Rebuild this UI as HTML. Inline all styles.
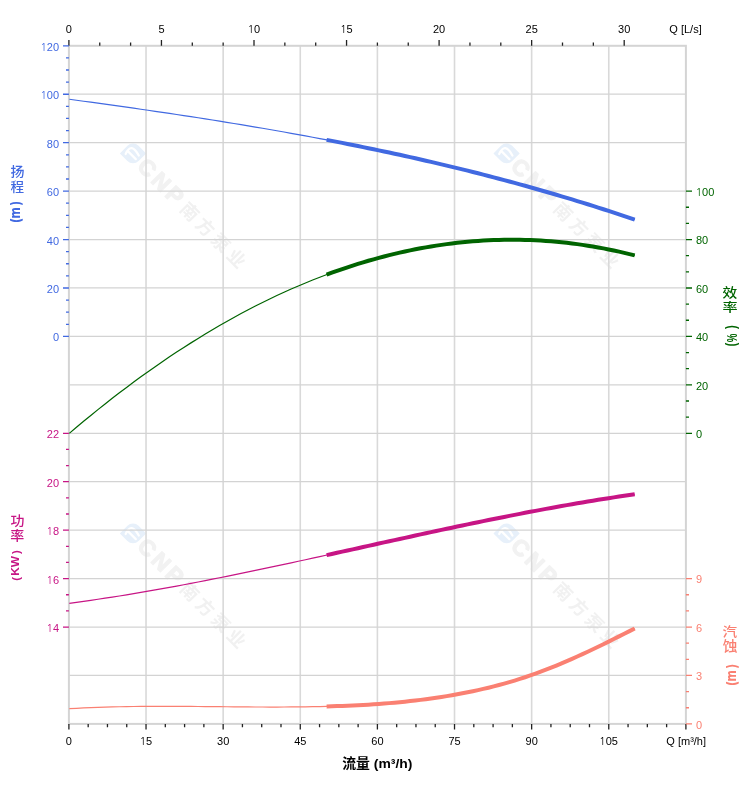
<!DOCTYPE html><html><head><meta charset="utf-8"><style>html,body{margin:0;padding:0;background:#fff;}svg{display:block;}</style></head><body>
<svg width="752" height="797" viewBox="0 0 752 797">
<rect width="752" height="797" fill="#fff"/>
<g transform="translate(133,153.4)"><path transform="rotate(45)" d="M-9.3,9.3 L-9.3,-1.4000000000000004 A7.9,7.9 0 0 1 -1.4000000000000004,-9.3 L9.3,-9.3 L9.3,1.4000000000000004 A7.9,7.9 0 0 1 1.4000000000000004,9.3 Z" fill="#e7f0fa"/><path d="M-7.4,0.6 Q-1.7,-12 5.8,2.2 M-4.7,-1.8 L2.8,5.7" stroke="#fff" stroke-width="2.2" fill="none" stroke-linecap="round"/><g transform="rotate(45)"><text x="12" y="7.9" font-family='"Liberation Sans",sans-serif' font-size="22.5" font-weight="bold" fill="#f2f2f2" stroke="#f2f2f2" stroke-width="1.3" stroke-linejoin="round" letter-spacing="3.6">CNP</text><text x="72.4" y="7.7" font-family='"Noto Sans CJK SC", "WenQuanYi Zen Hei", sans-serif' font-size="18" font-weight="700" fill="#f1f1f1" letter-spacing="4">南方泵业</text></g></g>
<g transform="translate(133,533.4)"><path transform="rotate(45)" d="M-9.3,9.3 L-9.3,-1.4000000000000004 A7.9,7.9 0 0 1 -1.4000000000000004,-9.3 L9.3,-9.3 L9.3,1.4000000000000004 A7.9,7.9 0 0 1 1.4000000000000004,9.3 Z" fill="#e7f0fa"/><path d="M-7.4,0.6 Q-1.7,-12 5.8,2.2 M-4.7,-1.8 L2.8,5.7" stroke="#fff" stroke-width="2.2" fill="none" stroke-linecap="round"/><g transform="rotate(45)"><text x="12" y="7.9" font-family='"Liberation Sans",sans-serif' font-size="22.5" font-weight="bold" fill="#f2f2f2" stroke="#f2f2f2" stroke-width="1.3" stroke-linejoin="round" letter-spacing="3.6">CNP</text><text x="72.4" y="7.7" font-family='"Noto Sans CJK SC", "WenQuanYi Zen Hei", sans-serif' font-size="18" font-weight="700" fill="#f1f1f1" letter-spacing="4">南方泵业</text></g></g>
<g transform="translate(506.6,153.4)"><path transform="rotate(45)" d="M-9.3,9.3 L-9.3,-1.4000000000000004 A7.9,7.9 0 0 1 -1.4000000000000004,-9.3 L9.3,-9.3 L9.3,1.4000000000000004 A7.9,7.9 0 0 1 1.4000000000000004,9.3 Z" fill="#e7f0fa"/><path d="M-7.4,0.6 Q-1.7,-12 5.8,2.2 M-4.7,-1.8 L2.8,5.7" stroke="#fff" stroke-width="2.2" fill="none" stroke-linecap="round"/><g transform="rotate(45)"><text x="12" y="7.9" font-family='"Liberation Sans",sans-serif' font-size="22.5" font-weight="bold" fill="#f2f2f2" stroke="#f2f2f2" stroke-width="1.3" stroke-linejoin="round" letter-spacing="3.6">CNP</text><text x="72.4" y="7.7" font-family='"Noto Sans CJK SC", "WenQuanYi Zen Hei", sans-serif' font-size="18" font-weight="700" fill="#f1f1f1" letter-spacing="4">南方泵业</text></g></g>
<g transform="translate(506.6,533.4)"><path transform="rotate(45)" d="M-9.3,9.3 L-9.3,-1.4000000000000004 A7.9,7.9 0 0 1 -1.4000000000000004,-9.3 L9.3,-9.3 L9.3,1.4000000000000004 A7.9,7.9 0 0 1 1.4000000000000004,9.3 Z" fill="#e7f0fa"/><path d="M-7.4,0.6 Q-1.7,-12 5.8,2.2 M-4.7,-1.8 L2.8,5.7" stroke="#fff" stroke-width="2.2" fill="none" stroke-linecap="round"/><g transform="rotate(45)"><text x="12" y="7.9" font-family='"Liberation Sans",sans-serif' font-size="22.5" font-weight="bold" fill="#f2f2f2" stroke="#f2f2f2" stroke-width="1.3" stroke-linejoin="round" letter-spacing="3.6">CNP</text><text x="72.4" y="7.7" font-family='"Noto Sans CJK SC", "WenQuanYi Zen Hei", sans-serif' font-size="18" font-weight="700" fill="#f1f1f1" letter-spacing="4">南方泵业</text></g></g>
<path d="M146.03,45.8V723.9M223.15,45.8V723.9M300.27,45.8V723.9M377.4,45.8V723.9M454.52,45.8V723.9M531.65,45.8V723.9M608.77,45.8V723.9" stroke="#d9d9d9" stroke-width="1.6" fill="none"/>
<path d="M68.9,94.24H685.9M68.9,142.67H685.9M68.9,191.11H685.9M68.9,239.54H685.9M68.9,287.98H685.9M68.9,336.42H685.9M68.9,384.85H685.9M68.9,433.29H685.9M68.9,481.72H685.9M68.9,530.16H685.9M68.9,578.6H685.9M68.9,627.03H685.9M68.9,675.47H685.9" stroke="#d3d3d3" stroke-width="1.25" fill="none"/>
<rect x="68.9" y="45.8" width="617" height="678.1" stroke="#d4d4d4" stroke-width="2" fill="none"/>
<path d="M68.9,40V45.8M99.75,42.5V45.8M130.6,42.5V45.8M161.45,40V45.8M192.3,42.5V45.8M223.15,42.5V45.8M254,40V45.8M284.85,42.5V45.8M315.7,42.5V45.8M346.55,40V45.8M377.4,42.5V45.8M408.25,42.5V45.8M439.1,40V45.8M469.95,42.5V45.8M500.8,42.5V45.8M531.65,40V45.8M562.5,42.5V45.8M593.35,42.5V45.8M624.2,40V45.8" stroke="#222" stroke-width="1.3" fill="none"/>
<path d="M68.9,723.9V729.5M88.18,723.9V727.3M107.46,723.9V727.3M126.74,723.9V727.3M146.03,723.9V729.5M165.31,723.9V727.3M184.59,723.9V727.3M203.87,723.9V727.3M223.15,723.9V729.5M242.43,723.9V727.3M261.71,723.9V727.3M280.99,723.9V727.3M300.27,723.9V729.5M319.56,723.9V727.3M338.84,723.9V727.3M358.12,723.9V727.3M377.4,723.9V729.5M396.68,723.9V727.3M415.96,723.9V727.3M435.24,723.9V727.3M454.52,723.9V729.5M473.81,723.9V727.3M493.09,723.9V727.3M512.37,723.9V727.3M531.65,723.9V729.5M550.93,723.9V727.3M570.21,723.9V727.3M589.49,723.9V727.3M608.77,723.9V729.5M628.06,723.9V727.3M647.34,723.9V727.3M666.62,723.9V727.3M685.9,723.9V729.5" stroke="#222" stroke-width="1.3" fill="none"/>
<path d="M63,45.8H68.9M66,57.91H68.9M66,70.02H68.9M66,82.13H68.9M63,94.24H68.9M66,106.34H68.9M66,118.45H68.9M66,130.56H68.9M63,142.67H68.9M66,154.78H68.9M66,166.89H68.9M66,179H68.9M63,191.11H68.9M66,203.22H68.9M66,215.33H68.9M66,227.44H68.9M63,239.54H68.9M66,251.65H68.9M66,263.76H68.9M66,275.87H68.9M63,287.98H68.9M66,300.09H68.9M66,312.2H68.9M66,324.31H68.9M63,336.42H68.9" stroke="#4169e1" stroke-width="1.3" fill="none"/>
<path d="M63,433.29H68.9M66,449.43H68.9M66,465.58H68.9M63,481.72H68.9M66,497.87H68.9M66,514.01H68.9M63,530.16H68.9M66,546.31H68.9M66,562.45H68.9M63,578.6H68.9M66,594.74H68.9M66,610.89H68.9M63,627.03H68.9" stroke="#c71585" stroke-width="1.3" fill="none"/>
<path d="M685.9,191.11H692M685.9,207.25H689M685.9,223.4H689M685.9,239.54H692M685.9,255.69H689M685.9,271.83H689M685.9,287.98H692M685.9,304.13H689M685.9,320.27H689M685.9,336.42H692M685.9,352.56H689M685.9,368.71H689M685.9,384.85H692M685.9,401H689M685.9,417.14H689M685.9,433.29H692" stroke="#006400" stroke-width="1.3" fill="none"/>
<path d="M685.9,578.6H692M685.9,594.74H689M685.9,610.89H689M685.9,627.03H692M685.9,643.18H689M685.9,659.32H689M685.9,675.47H692M685.9,691.61H689M685.9,707.76H689M685.9,723.9H692" stroke="#fa8072" stroke-width="1.3" fill="none"/>
<g font-family='"Liberation Sans", Arial, "Noto Sans CJK SC", sans-serif'><text y="33" fill="#000" font-size="11" ><tspan x="65.84">0</tspan></text><text y="33" fill="#000" font-size="11" ><tspan x="158.39">5</tspan></text><text y="33" fill="#000" font-size="11" ><tspan x="247.63" font-family="NanumGothic, 'Liberation Sans', sans-serif" font-size="10.5">1</tspan><tspan x="254">0</tspan></text><text y="33" fill="#000" font-size="11" ><tspan x="340.18" font-family="NanumGothic, 'Liberation Sans', sans-serif" font-size="10.5">1</tspan><tspan x="346.55">5</tspan></text><text y="33" fill="#000" font-size="11" ><tspan x="432.98">2</tspan><tspan x="439.1">0</tspan></text><text y="33" fill="#000" font-size="11" ><tspan x="525.53">2</tspan><tspan x="531.65">5</tspan></text><text y="33" fill="#000" font-size="11" ><tspan x="618.08">3</tspan><tspan x="624.2">0</tspan></text><text x="669.3" y="33" fill="#000" text-anchor="start" font-size="11" >Q [L/s]</text><text y="745" fill="#000" font-size="11" ><tspan x="65.84">0</tspan></text><text y="745" fill="#000" font-size="11" ><tspan x="139.66" font-family="NanumGothic, 'Liberation Sans', sans-serif" font-size="10.5">1</tspan><tspan x="146.03">5</tspan></text><text y="745" fill="#000" font-size="11" ><tspan x="217.03">3</tspan><tspan x="223.15">0</tspan></text><text y="745" fill="#000" font-size="11" ><tspan x="294.16">4</tspan><tspan x="300.27">5</tspan></text><text y="745" fill="#000" font-size="11" ><tspan x="371.28">6</tspan><tspan x="377.4">0</tspan></text><text y="745" fill="#000" font-size="11" ><tspan x="448.41">7</tspan><tspan x="454.52">5</tspan></text><text y="745" fill="#000" font-size="11" ><tspan x="525.53">9</tspan><tspan x="531.65">0</tspan></text><text y="745" fill="#000" font-size="11" ><tspan x="599.35" font-family="NanumGothic, 'Liberation Sans', sans-serif" font-size="10.5">1</tspan><tspan x="605.72">0</tspan><tspan x="611.83">5</tspan></text><text x="666.3" y="745" fill="#000" text-anchor="start" font-size="11" >Q [m³/h]</text><text y="50.8" fill="#4169e1" font-size="11" ><tspan x="40.39" font-family="NanumGothic, 'Liberation Sans', sans-serif" font-size="10.5">1</tspan><tspan x="46.76">2</tspan><tspan x="52.88">0</tspan></text><text y="99.24" fill="#4169e1" font-size="11" ><tspan x="40.39" font-family="NanumGothic, 'Liberation Sans', sans-serif" font-size="10.5">1</tspan><tspan x="46.76">0</tspan><tspan x="52.88">0</tspan></text><text y="147.67" fill="#4169e1" font-size="11" ><tspan x="46.76">8</tspan><tspan x="52.88">0</tspan></text><text y="196.11" fill="#4169e1" font-size="11" ><tspan x="46.76">6</tspan><tspan x="52.88">0</tspan></text><text y="244.54" fill="#4169e1" font-size="11" ><tspan x="46.76">4</tspan><tspan x="52.88">0</tspan></text><text y="292.98" fill="#4169e1" font-size="11" ><tspan x="46.76">2</tspan><tspan x="52.88">0</tspan></text><text y="341.42" fill="#4169e1" font-size="11" ><tspan x="52.88">0</tspan></text><text y="438.29" fill="#c71585" font-size="11" ><tspan x="46.76">2</tspan><tspan x="52.88">2</tspan></text><text y="486.72" fill="#c71585" font-size="11" ><tspan x="46.76">2</tspan><tspan x="52.88">0</tspan></text><text y="535.16" fill="#c71585" font-size="11" ><tspan x="46.51" font-family="NanumGothic, 'Liberation Sans', sans-serif" font-size="10.5">1</tspan><tspan x="52.88">8</tspan></text><text y="583.6" fill="#c71585" font-size="11" ><tspan x="46.51" font-family="NanumGothic, 'Liberation Sans', sans-serif" font-size="10.5">1</tspan><tspan x="52.88">6</tspan></text><text y="632.03" fill="#c71585" font-size="11" ><tspan x="46.51" font-family="NanumGothic, 'Liberation Sans', sans-serif" font-size="10.5">1</tspan><tspan x="52.88">4</tspan></text><text y="195.81" fill="#006400" font-size="11" ><tspan x="695.75" font-family="NanumGothic, 'Liberation Sans', sans-serif" font-size="10.5">1</tspan><tspan x="702.12">0</tspan><tspan x="708.24">0</tspan></text><text y="244.24" fill="#006400" font-size="11" ><tspan x="696">8</tspan><tspan x="702.12">0</tspan></text><text y="292.68" fill="#006400" font-size="11" ><tspan x="696">6</tspan><tspan x="702.12">0</tspan></text><text y="341.12" fill="#006400" font-size="11" ><tspan x="696">4</tspan><tspan x="702.12">0</tspan></text><text y="389.55" fill="#006400" font-size="11" ><tspan x="696">2</tspan><tspan x="702.12">0</tspan></text><text y="437.99" fill="#006400" font-size="11" ><tspan x="696">0</tspan></text><text y="583.3" fill="#fa8072" font-size="11" ><tspan x="696">9</tspan></text><text y="631.73" fill="#fa8072" font-size="11" ><tspan x="696">6</tspan></text><text y="680.17" fill="#fa8072" font-size="11" ><tspan x="696">3</tspan></text><text y="728.6" fill="#fa8072" font-size="11" ><tspan x="696">0</tspan></text></g>
<text transform="matrix(0.14000,0,0,0.13043,10.440,175.957)" x="0" y="0" fill="#4169e1" font-size="100" font-weight="500" font-family='"Noto Sans CJK SC", "WenQuanYi Zen Hei", sans-serif'>扬</text>
<text transform="matrix(0.13548,0,0,0.12747,10.594,190.880)" x="0" y="0" fill="#4169e1" font-size="100" font-weight="500" font-family='"Noto Sans CJK SC", "WenQuanYi Zen Hei", sans-serif'>程</text>
<text transform="matrix(0.00000,-0.10345,0.13820,0.00000,21.403,205.728)" x="0" y="0" fill="#4169e1" font-size="100" font-weight="700" font-family='"DejaVu Sans",sans-serif'>)</text>
<text transform="matrix(0.00000,-0.11250,0.14196,0.00000,20.050,218.800)" x="0" y="0" fill="#4169e1" font-size="100" font-weight="700" font-family='"DejaVu Sans",sans-serif'>m</text>
<text transform="matrix(0.00000,-0.11071,0.13820,0.00000,21.403,222.996)" x="0" y="0" fill="#4169e1" font-size="100" font-weight="700" font-family='"DejaVu Sans",sans-serif'>(</text>
<text transform="matrix(0.14000,0,0,0.12967,10.440,525.063)" x="0" y="0" fill="#c71585" font-size="100" font-weight="500" font-family='"Noto Sans CJK SC", "WenQuanYi Zen Hei", sans-serif'>功</text>
<text transform="matrix(0.14000,0,0,0.12903,10.300,540.168)" x="0" y="0" fill="#c71585" font-size="100" font-weight="500" font-family='"Noto Sans CJK SC", "WenQuanYi Zen Hei", sans-serif'>率</text>
<text transform="matrix(0.00000,-0.11071,0.11702,0.00000,19.543,553.900)" x="0" y="0" fill="#c71585" font-size="100" font-weight="700" font-family='"Liberation Sans",sans-serif'>)</text>
<text transform="matrix(0.00000,-0.11887,0.11449,0.00000,18.900,575.732)" x="0" y="0" fill="#c71585" font-size="100" font-weight="700" font-family='"Liberation Sans",sans-serif'>KW</text>
<text transform="matrix(0.00000,-0.11071,0.11702,0.00000,19.543,580.654)" x="0" y="0" fill="#c71585" font-size="100" font-weight="700" font-family='"Liberation Sans",sans-serif'>(</text>
<text transform="matrix(0.14783,0,0,0.12688,722.609,296.758)" x="0" y="0" fill="#006400" font-size="100" font-weight="500" font-family='"Noto Sans CJK SC", "WenQuanYi Zen Hei", sans-serif'>效</text>
<text transform="matrix(0.15111,0,0,0.12473,722.444,311.602)" x="0" y="0" fill="#006400" font-size="100" font-weight="500" font-family='"Noto Sans CJK SC", "WenQuanYi Zen Hei", sans-serif'>率</text>
<text transform="matrix(0.00000,-0.11071,0.14096,0.00000,736.040,329.000)" x="0" y="0" fill="#006400" font-size="100" font-weight="700" font-family='"Liberation Sans",sans-serif'>)</text>
<text transform="matrix(0.00000,-0.09639,0.15286,0.00000,736.647,342.189)" x="0" y="0" fill="#006400" font-size="100" font-weight="700" font-family='"Liberation Sans",sans-serif'>%</text>
<text transform="matrix(0.00000,-0.10357,0.14096,0.00000,736.040,346.318)" x="0" y="0" fill="#006400" font-size="100" font-weight="700" font-family='"Liberation Sans",sans-serif'>(</text>
<text transform="matrix(0.14624,0,0,0.12903,722.615,635.839)" x="0" y="0" fill="#fa8072" font-size="100" font-weight="500" font-family='"Noto Sans CJK SC", "WenQuanYi Zen Hei", sans-serif'>汽</text>
<text transform="matrix(0.14783,0,0,0.14066,722.757,651.315)" x="0" y="0" fill="#fa8072" font-size="100" font-weight="500" font-family='"Noto Sans CJK SC", "WenQuanYi Zen Hei", sans-serif'>蚀</text>
<text transform="matrix(0.00000,-0.10690,0.14719,0.00000,737.087,668.855)" x="0" y="0" fill="#fa8072" font-size="100" font-weight="700" font-family='"DejaVu Sans",sans-serif'>)</text>
<text transform="matrix(0.00000,-0.11250,0.13929,0.00000,736.000,681.800)" x="0" y="0" fill="#fa8072" font-size="100" font-weight="700" font-family='"DejaVu Sans",sans-serif'>m</text>
<text transform="matrix(0.00000,-0.11071,0.14719,0.00000,737.087,685.996)" x="0" y="0" fill="#fa8072" font-size="100" font-weight="700" font-family='"DejaVu Sans",sans-serif'>(</text>
<text transform="matrix(0.13896,0,0,0.13491,342.183,768.167)" x="0" y="0" fill="#000" font-size="100" font-weight="700" font-family='"Liberation Sans","Noto Sans CJK SC",sans-serif'>流量 (m³/h)</text>
<path d="M69.3,708.68 L76.46,708.28 L83.61,707.93 L90.77,707.62 L97.93,707.34 L105.08,707.11 L112.24,706.91 L119.4,706.75 L126.56,706.61 L133.71,706.51 L140.87,706.43 L148.03,706.38 L155.18,706.35 L162.34,706.33 L169.5,706.34 L176.65,706.36 L183.81,706.4 L190.97,706.44 L198.13,706.5 L205.28,706.56 L212.44,706.62 L219.6,706.69 L226.75,706.76 L233.91,706.82 L241.07,706.88 L248.22,706.93 L255.38,706.98 L262.54,707.01 L269.69,707.03 L276.85,707.03 L284.01,707.01 L291.17,706.97 L298.32,706.91 L305.48,706.83 L312.64,706.72 L319.79,706.57 L326.95,706.4 L334.11,706.19 L341.26,705.95 L348.42,705.66 L355.58,705.33 L362.74,704.96 L369.89,704.53 L377.05,704.06 L384.21,703.53 L391.36,702.94 L398.52,702.29 L405.68,701.58 L412.83,700.8 L419.99,699.95 L427.15,699.03 L434.31,698.03 L441.46,696.96 L448.62,695.8 L455.78,694.56 L462.93,693.23 L470.09,691.8 L477.25,690.28 L484.4,688.66 L491.56,686.93 L498.72,685.08 L505.87,683.12 L513.03,681.03 L520.19,678.82 L527.35,676.47 L534.5,673.98 L541.66,671.36 L548.82,668.6 L555.97,665.73 L563.13,662.74 L570.29,659.65 L577.44,656.46 L584.6,653.18 L591.76,649.82 L598.92,646.39 L606.07,642.89 L613.23,639.33 L620.39,635.73 L627.54,632.09 L634.7,628.41" stroke="#fa8072" stroke-width="1.2" fill="none"/>
<path d="M326.6,706.41 L331.82,706.26 L337.04,706.1 L342.27,705.91 L347.49,705.7 L352.71,705.47 L357.93,705.21 L363.15,704.93 L368.38,704.63 L373.6,704.3 L378.82,703.93 L384.04,703.54 L389.26,703.12 L394.49,702.67 L399.71,702.18 L404.93,701.66 L410.15,701.1 L415.37,700.51 L420.6,699.88 L425.82,699.21 L431.04,698.5 L436.26,697.75 L441.48,696.95 L446.71,696.12 L451.93,695.24 L457.15,694.31 L462.37,693.33 L467.59,692.31 L472.82,691.24 L478.04,690.11 L483.26,688.92 L488.48,687.68 L493.71,686.39 L498.93,685.02 L504.15,683.6 L509.37,682.11 L514.59,680.56 L519.82,678.93 L525.04,677.24 L530.26,675.47 L535.48,673.63 L540.7,671.72 L545.93,669.73 L551.15,667.68 L556.37,665.57 L561.59,663.39 L566.81,661.16 L572.04,658.88 L577.26,656.54 L582.48,654.16 L587.7,651.73 L592.92,649.27 L598.15,646.76 L603.37,644.22 L608.59,641.64 L613.81,639.04 L619.03,636.41 L624.26,633.76 L629.48,631.1 L634.7,628.41" stroke="#fa8072" stroke-width="4" fill="none"/>
<path d="M69.3,603.29 L76.46,602.34 L83.61,601.35 L90.77,600.33 L97.93,599.28 L105.08,598.21 L112.24,597.11 L119.4,595.98 L126.56,594.82 L133.71,593.64 L140.87,592.43 L148.03,591.2 L155.18,589.95 L162.34,588.68 L169.5,587.38 L176.65,586.07 L183.81,584.73 L190.97,583.37 L198.13,582 L205.28,580.61 L212.44,579.2 L219.6,577.78 L226.75,576.34 L233.91,574.88 L241.07,573.42 L248.22,571.94 L255.38,570.44 L262.54,568.94 L269.69,567.42 L276.85,565.9 L284.01,564.37 L291.17,562.83 L298.32,561.28 L305.48,559.72 L312.64,558.16 L319.79,556.59 L326.95,555.02 L334.11,553.45 L341.26,551.87 L348.42,550.29 L355.58,548.71 L362.74,547.13 L369.89,545.54 L377.05,543.96 L384.21,542.39 L391.36,540.81 L398.52,539.24 L405.68,537.67 L412.83,536.11 L419.99,534.55 L427.15,533 L434.31,531.45 L441.46,529.92 L448.62,528.39 L455.78,526.87 L462.93,525.36 L470.09,523.87 L477.25,522.38 L484.4,520.91 L491.56,519.45 L498.72,518 L505.87,516.58 L513.03,515.16 L520.19,513.76 L527.35,512.38 L534.5,511.02 L541.66,509.68 L548.82,508.35 L555.97,507.05 L563.13,505.77 L570.29,504.51 L577.44,503.27 L584.6,502.06 L591.76,500.87 L598.92,499.7 L606.07,498.56 L613.23,497.45 L620.39,496.37 L627.54,495.31 L634.7,494.28" stroke="#c71585" stroke-width="1.2" fill="none"/>
<path d="M326.6,555.1 L331.82,553.95 L337.04,552.8 L342.27,551.65 L347.49,550.49 L352.71,549.34 L357.93,548.19 L363.15,547.03 L368.38,545.88 L373.6,544.73 L378.82,543.57 L384.04,542.42 L389.26,541.27 L394.49,540.12 L399.71,538.98 L404.93,537.83 L410.15,536.69 L415.37,535.55 L420.6,534.42 L425.82,533.28 L431.04,532.15 L436.26,531.03 L441.48,529.91 L446.71,528.79 L451.93,527.68 L457.15,526.58 L462.37,525.48 L467.59,524.39 L472.82,523.3 L478.04,522.22 L483.26,521.14 L488.48,520.08 L493.71,519.02 L498.93,517.96 L504.15,516.92 L509.37,515.88 L514.59,514.86 L519.82,513.84 L525.04,512.83 L530.26,511.83 L535.48,510.84 L540.7,509.86 L545.93,508.89 L551.15,507.93 L556.37,506.98 L561.59,506.04 L566.81,505.12 L572.04,504.2 L577.26,503.3 L582.48,502.41 L587.7,501.54 L592.92,500.68 L598.15,499.83 L603.37,498.99 L608.59,498.17 L613.81,497.36 L619.03,496.57 L624.26,495.79 L629.48,495.03 L634.7,494.28" stroke="#c71585" stroke-width="4" fill="none"/>
<path d="M69.3,433.38 L76.46,427.31 L83.61,421.33 L90.77,415.44 L97.93,409.65 L105.08,403.95 L112.24,398.34 L119.4,392.83 L126.56,387.41 L133.71,382.08 L140.87,376.85 L148.03,371.71 L155.18,366.67 L162.34,361.72 L169.5,356.86 L176.65,352.1 L183.81,347.44 L190.97,342.87 L198.13,338.4 L205.28,334.02 L212.44,329.74 L219.6,325.55 L226.75,321.47 L233.91,317.48 L241.07,313.58 L248.22,309.79 L255.38,306.09 L262.54,302.49 L269.69,298.98 L276.85,295.58 L284.01,292.27 L291.17,289.06 L298.32,285.95 L305.48,282.94 L312.64,280.03 L319.79,277.22 L326.95,274.51 L334.11,271.9 L341.26,269.39 L348.42,266.98 L355.58,264.67 L362.74,262.46 L369.89,260.35 L377.05,258.34 L384.21,256.44 L391.36,254.63 L398.52,252.93 L405.68,251.33 L412.83,249.83 L419.99,248.44 L427.15,247.15 L434.31,245.96 L441.46,244.87 L448.62,243.89 L455.78,243.01 L462.93,242.24 L470.09,241.57 L477.25,241 L484.4,240.54 L491.56,240.18 L498.72,239.93 L505.87,239.79 L513.03,239.75 L520.19,239.81 L527.35,239.98 L534.5,240.26 L541.66,240.64 L548.82,241.13 L555.97,241.73 L563.13,242.44 L570.29,243.25 L577.44,244.17 L584.6,245.19 L591.76,246.33 L598.92,247.57 L606.07,248.92 L613.23,250.38 L620.39,251.95 L627.54,253.63 L634.7,255.42" stroke="#006400" stroke-width="1.2" fill="none"/>
<path d="M326.6,274.64 L331.82,272.72 L337.04,270.86 L342.27,269.04 L347.49,267.29 L352.71,265.58 L357.93,263.93 L363.15,262.33 L368.38,260.79 L373.6,259.3 L378.82,257.86 L384.04,256.48 L389.26,255.15 L394.49,253.88 L399.71,252.66 L404.93,251.49 L410.15,250.38 L415.37,249.33 L420.6,248.33 L425.82,247.38 L431.04,246.49 L436.26,245.65 L441.48,244.87 L446.71,244.14 L451.93,243.47 L457.15,242.86 L462.37,242.29 L467.59,241.79 L472.82,241.34 L478.04,240.95 L483.26,240.61 L488.48,240.32 L493.71,240.1 L498.93,239.93 L504.15,239.81 L509.37,239.75 L514.59,239.75 L519.82,239.81 L525.04,239.92 L530.26,240.08 L535.48,240.31 L540.7,240.59 L545.93,240.92 L551.15,241.32 L556.37,241.77 L561.59,242.28 L566.81,242.84 L572.04,243.46 L577.26,244.14 L582.48,244.88 L587.7,245.67 L592.92,246.52 L598.15,247.43 L603.37,248.4 L608.59,249.42 L613.81,250.51 L619.03,251.65 L624.26,252.84 L629.48,254.1 L634.7,255.42" stroke="#006400" stroke-width="4" fill="none"/>
<path d="M69.3,99.28 L76.46,100.25 L83.61,101.22 L90.77,102.19 L97.93,103.18 L105.08,104.17 L112.24,105.17 L119.4,106.17 L126.56,107.18 L133.71,108.2 L140.87,109.23 L148.03,110.26 L155.18,111.31 L162.34,112.36 L169.5,113.42 L176.65,114.5 L183.81,115.58 L190.97,116.68 L198.13,117.78 L205.28,118.9 L212.44,120.02 L219.6,121.16 L226.75,122.32 L233.91,123.48 L241.07,124.66 L248.22,125.85 L255.38,127.05 L262.54,128.27 L269.69,129.51 L276.85,130.75 L284.01,132.02 L291.17,133.3 L298.32,134.59 L305.48,135.9 L312.64,137.23 L319.79,138.57 L326.95,139.93 L334.11,141.31 L341.26,142.71 L348.42,144.12 L355.58,145.55 L362.74,147.01 L369.89,148.48 L377.05,149.97 L384.21,151.48 L391.36,153.01 L398.52,154.56 L405.68,156.14 L412.83,157.73 L419.99,159.35 L427.15,160.99 L434.31,162.65 L441.46,164.33 L448.62,166.04 L455.78,167.77 L462.93,169.52 L470.09,171.3 L477.25,173.1 L484.4,174.93 L491.56,176.78 L498.72,178.66 L505.87,180.56 L513.03,182.49 L520.19,184.45 L527.35,186.43 L534.5,188.44 L541.66,190.48 L548.82,192.55 L555.97,194.64 L563.13,196.77 L570.29,198.92 L577.44,201.1 L584.6,203.31 L591.76,205.56 L598.92,207.83 L606.07,210.13 L613.23,212.46 L620.39,214.83 L627.54,217.23 L634.7,219.66" stroke="#4169e1" stroke-width="1.2" fill="none"/>
<path d="M326.6,139.86 L331.82,140.87 L337.04,141.88 L342.27,142.9 L347.49,143.94 L352.71,144.98 L357.93,146.03 L363.15,147.09 L368.38,148.17 L373.6,149.25 L378.82,150.34 L384.04,151.45 L389.26,152.56 L394.49,153.69 L399.71,154.82 L404.93,155.97 L410.15,157.13 L415.37,158.3 L420.6,159.49 L425.82,160.68 L431.04,161.89 L436.26,163.1 L441.48,164.33 L446.71,165.58 L451.93,166.83 L457.15,168.1 L462.37,169.38 L467.59,170.67 L472.82,171.98 L478.04,173.3 L483.26,174.63 L488.48,175.98 L493.71,177.34 L498.93,178.71 L504.15,180.1 L509.37,181.5 L514.59,182.92 L519.82,184.35 L525.04,185.79 L530.26,187.25 L535.48,188.72 L540.7,190.21 L545.93,191.71 L551.15,193.23 L556.37,194.76 L561.59,196.31 L566.81,197.87 L572.04,199.45 L577.26,201.04 L582.48,202.65 L587.7,204.28 L592.92,205.92 L598.15,207.58 L603.37,209.26 L608.59,210.95 L613.81,212.66 L619.03,214.38 L624.26,216.12 L629.48,217.88 L634.7,219.66" stroke="#4169e1" stroke-width="4" fill="none"/>
</svg></body></html>
